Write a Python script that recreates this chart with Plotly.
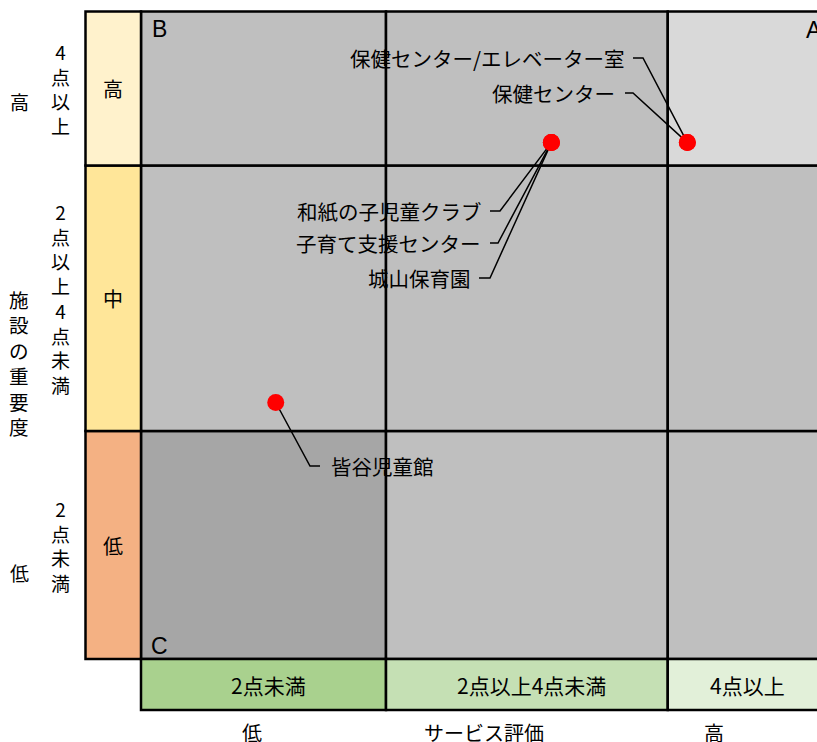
import plotly.graph_objects as go

# --- data ---
facilities = ['和紙の子児童クラブ', '子育て支援センター', '城山保育園',
              '保健センター/エレベーター室', '保健センター', '皆谷児童館']
service_score = [3.35, 3.35, 3.35, 4.46, 4.46, 1.10]     # サービス評価
importance_score = [4.53, 4.53, 4.53, 4.53, 4.53, 2.25]  # 施設の重要度

band_names = ['2点未満', '2点以上4点未満', '4点以上']   # low -> high
importance_levels = ['低', '中', '高']
x_edges = [0, 2, 4.3, 6]
y_edges = [0, 2, 4.33, 5.68]
zone_letters = ['B', 'A', 'C']

# --- page geometry (pixels -> score units) ---
W, H = 817, 742
def dx(px):
    return (px - 141) / 122.5

def dy(py):
    return (659 - py) / 114

FONT = 'Noto Sans CJK JP'
LINE = dict(color='black', width=2.5)

fig = go.Figure()
shapes = []

# grid cells
cell_fill = [['#A6A6A6', '#BFBFBF', '#BFBFBF'],
             ['#BFBFBF', '#BFBFBF', '#BFBFBF'],
             ['#BFBFBF', '#BFBFBF', '#D9D9D9']]
for r in range(3):
    for c in range(3):
        shapes.append(dict(type='rect', x0=x_edges[c], x1=x_edges[c + 1],
                           y0=y_edges[r], y1=y_edges[r + 1],
                           fillcolor=cell_fill[r][c], line=LINE, layer='below'))

# importance band column (left) and service band row (bottom)
side_fill = ['#F4B183', '#FFE699', '#FFF2CC']
bottom_fill = ['#A9D18E', '#C5E0B4', '#E2F0D9']
for i in range(3):
    shapes.append(dict(type='rect', x0=dx(85.5), x1=0, y0=y_edges[i], y1=y_edges[i + 1],
                       fillcolor=side_fill[i], line=LINE, layer='below'))
    shapes.append(dict(type='rect', x0=x_edges[i], x1=x_edges[i + 1], y0=dy(710), y1=0,
                       fillcolor=bottom_fill[i], line=LINE, layer='below'))

annotations = []

def txt(x, y, s, size=20, family=FONT, xanchor='center'):
    annotations.append(dict(x=x, y=y, text=s, showarrow=False, xanchor=xanchor,
                            yanchor='middle', font=dict(family=family, size=size, color='black')))

def vertical(s):
    # one character per line (plotly line spacing = 1.3 x font size)
    return '<br>'.join(list(s))

# band labels
x_right = dx(W)
for i in range(3):
    yc = (y_edges[i] + y_edges[i + 1]) / 2
    txt(dx(113), yc, importance_levels[i])
    txt(dx(60), yc, vertical(band_names[i]), size=19)
    xc = (x_edges[i] + min(x_edges[i + 1], x_right)) / 2
    txt(xc + dx(146) - dx(141), dy(685), band_names[i], size=21)

# axis titles
txt(dx(19), dy(363), vertical('施設の重要度'), size=19.6)
txt(dx(19), dy(101), '高', size=19)
txt(dx(19), dy(572), '低', size=19)
txt(dx(252), dy(732), '低')
txt(dx(484), dy(732), 'サービス評価')
txt(dx(714), dy(732), '高')

# zone letters
letter_pos = [(159, 29), (814, 30), (159, 646)]
for letter, (px, py) in zip(zone_letters, letter_pos):
    txt(dx(px), dy(py), letter, size=23, family='Liberation Sans')

# labels with leader lines (text end, line start, elbow in pixels)
label_layout = {
    '保健センター/エレベーター室': dict(side='left', tx=627, ty=58, xs=633, xe=643),
    '保健センター': dict(side='left', tx=617, ty=93, xs=625, xe=633),
    '和紙の子児童クラブ': dict(side='left', tx=484, ty=211, xs=490, xe=500),
    '子育て支援センター': dict(side='left', tx=483, ty=243, xs=490, xe=498),
    '城山保育園': dict(side='left', tx=473, ty=278, xs=479, xe=490),
    '皆谷児童館': dict(side='right', tx=329, ty=466, xs=320, xe=310),
}
lx, ly = [], []
for name, sx, sy in zip(facilities, service_score, importance_score):
    lay = label_layout[name]
    lx += [sx, dx(lay['xe']), dx(lay['xs']), None]
    ly += [sy, dy(lay['ty']), dy(lay['ty']), None]
    txt(dx(lay['tx']), dy(lay['ty']), name, size=20.5,
        xanchor='right' if lay['side'] == 'left' else 'left')

fig.add_trace(go.Scatter(x=lx, y=ly, mode='lines', line=dict(color='black', width=1.5),
                         hoverinfo='skip', showlegend=False))
fig.add_trace(go.Scatter(x=service_score, y=importance_score, mode='markers',
                         marker=dict(color='#FF0000', size=17), text=facilities,
                         hoverinfo='text', showlegend=False))

fig.update_layout(
    width=W, height=H,
    margin=dict(l=0, r=0, t=0, b=0),
    paper_bgcolor='white', plot_bgcolor='white',
    xaxis=dict(range=[dx(0), dx(W)], visible=False, fixedrange=True),
    yaxis=dict(range=[dy(H), dy(0)], visible=False, fixedrange=True),
    shapes=shapes, annotations=annotations,
)

fig.write_html('out.html', config={'displayModeBar': False},
               post_script="document.body.style.margin='0px';")
